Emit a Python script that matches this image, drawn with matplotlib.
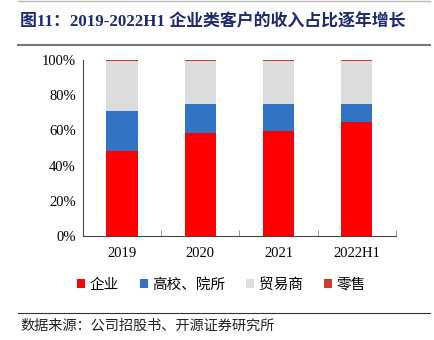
import numpy as np
import matplotlib
matplotlib.use('Agg')
import matplotlib.pyplot as plt
from matplotlib.lines import Line2D

CJK = ['Noto Sans CJK SC', 'DejaVu Sans']
SERIF = ['Liberation Serif', 'Noto Sans CJK SC']

years = ['2019', '2020', '2021', '2022H1']
series_names = ['企业', '高校、院所', '贸易商', '零售']
enterprise = [48.3, 58.3, 59.7, 64.6]
university = [22.7, 16.9, 15.1, 10.2]
trader = [28.5, 24.3, 24.7, 24.7]
retail = [0.5, 0.5, 0.5, 0.5]

colors = ['#FF0000', '#3174C4', '#DCDCDC', '#C8402E']


def main():
    fig = plt.figure(figsize=(4.34, 3.40), dpi=100)
    ax = fig.add_axes([0.191, 0.306, 0.721, 0.518])

    x = np.arange(len(years))
    bottom = np.zeros(len(years))
    for vals, name, c in zip([enterprise, university, trader, retail], series_names, colors):
        ax.bar(x, vals, width=0.4, bottom=bottom, color=c, label=name, zorder=2)
        bottom += np.array(vals)

    ax.set_xlim(-0.5, len(years) - 0.5)
    ax.set_ylim(0, 100)
    ax.set_yticks(np.arange(0, 101, 20))
    ax.set_yticklabels([f'{v}%' for v in range(0, 101, 20)], family=SERIF, fontsize=10.5)
    ax.set_xticks(x)
    ax.set_xticklabels(years, family=SERIF, fontsize=10.5)
    ax.tick_params(axis='x', length=0, pad=8)
    ax.tick_params(axis='y', length=0, pad=5)
    ax.set_xticks(np.arange(len(years)) + 0.5, minor=True)
    ax.tick_params(axis='x', which='minor', length=4, direction='in', color='#888888')
    for s in ['top', 'right']:
        ax.spines[s].set_visible(False)
    for s in ['left', 'bottom']:
        ax.spines[s].set_color('#444444')

    fig.legend(loc='center', bbox_to_anchor=(0.51, 0.162), ncol=4, frameon=False,
               prop={'family': CJK, 'size': 10.5}, handlelength=0.55, handleheight=0.55,
               handletextpad=0.35, columnspacing=1.4)

    # title and rules
    fig.text(0.046, 0.935, '图11：2019-2022H1 企业类客户的收入占比逐年增长',
             family=['Liberation Serif', 'Noto Sans CJK SC'],
             fontsize=12.2, fontweight='bold', color='#1F2A6E', va='center')
    fig.add_artist(Line2D([0.042, 0.99], [0.997, 0.997], color='#BBBBBB', lw=1))
    fig.add_artist(Line2D([0.042, 0.99], [0.868, 0.868], color='#777777', lw=1.5))
    fig.add_artist(Line2D([0.042, 0.99], [0.079, 0.079], color='#333333', lw=0.8))
    fig.text(0.046, 0.042, '数据来源：公司招股书、开源证券研究所', family=CJK, fontsize=10.2,
             color='#222222', va='center')

    fig.savefig('out.png', dpi=100)


if __name__ == '__main__':
    main()
